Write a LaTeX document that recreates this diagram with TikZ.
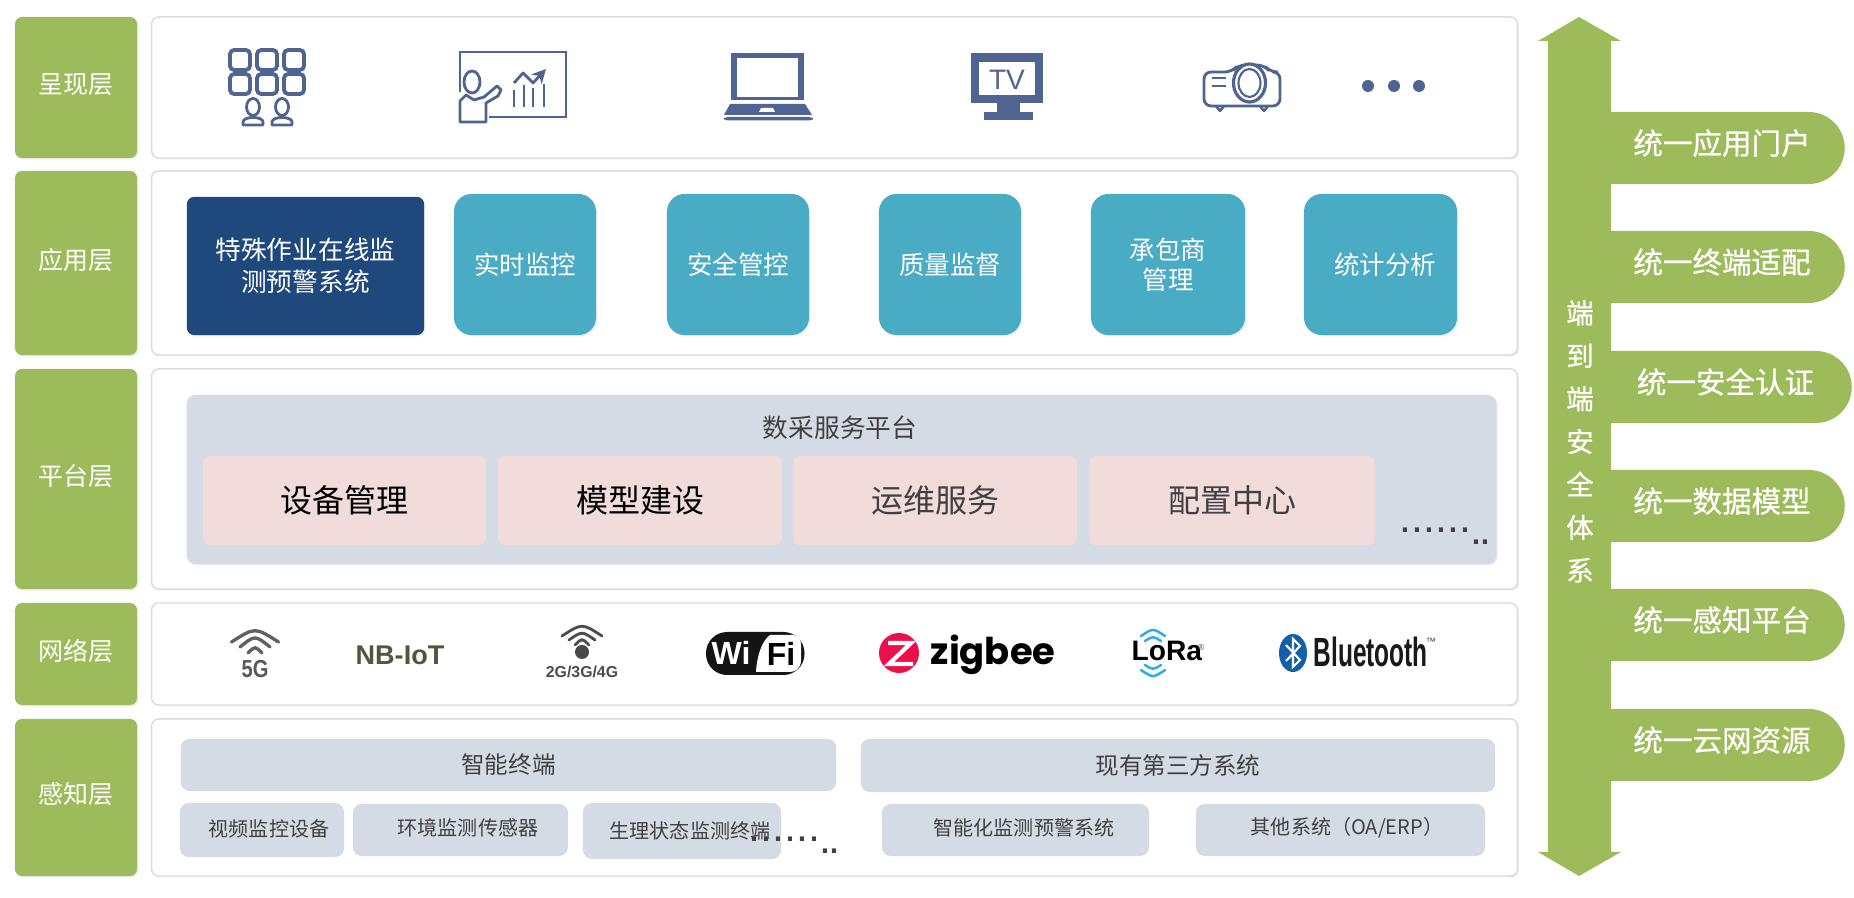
\documentclass[tikz,border=0pt]{standalone}
\usepackage{fontspec}
\usepackage{xcolor}
\usepackage{tikz}
\usetikzlibrary{calc, shapes.misc, shadows, arrows.meta}
\setmainfont{Noto Sans CJK SC}
\newfontfamily\cjkfat[FakeBold=0.7]{Noto Sans CJK SC}
\newfontfamily\logofont{Liberation Sans}
\newfontfamily\popfont{Poppins}
\definecolor{greenc}{RGB}{157,187,90}
\definecolor{tealc}{RGB}{74,171,197}
\definecolor{navyc}{RGB}{31,73,125}
\definecolor{slatec}{RGB}{213,219,229}
\definecolor{pinkc}{RGB}{241,219,219}
\definecolor{iconc}{RGB}{80,100,145}
\definecolor{txtc}{RGB}{64,64,64}
\definecolor{nbc}{RGB}{78,88,60}
\definecolor{zigc}{RGB}{235,15,75}
\definecolor{btc}{RGB}{20,95,170}
\definecolor{lorac}{RGB}{40,175,230}

\begin{document}
\begin{tikzpicture}[x=0.01cm, y=-0.01cm, font=\fontsize{7.1pt}{8.6pt}\selectfont,
  softshadow/.style={drop shadow={shadow xshift=0.4pt, shadow yshift=-0.4pt, opacity=0.07, fill=black}},
  layerlab/.style={fill=greenc, text=white, rounded corners=2pt, inner sep=0pt, minimum width=1.22cm,
                   text height=4.5pt, text depth=1pt, softshadow},
  panel/.style={fill=white, draw=black!14, line width=0.4pt, rounded corners=2pt, minimum width=13.65cm, inner sep=0pt, softshadow},
  appbox/.style={fill=tealc, text=white, rounded corners=5pt, inner sep=0pt, align=center, minimum height=1.41cm,
                 font=\fontsize{7.25pt}{8.6pt}\selectfont, softshadow},
  padbox/.style={fill=pinkc, rounded corners=2pt, inner sep=0pt, minimum height=0.89cm,
                 font=\fontsize{9.1pt}{11pt}\selectfont},
  headbox/.style={fill=slatec, rounded corners=2.5pt, inner sep=0pt, text=txtc, font=\fontsize{6.7pt}{8pt}\selectfont},
  subbox/.style={fill=slatec, rounded corners=2.5pt, inner sep=0pt},
  subtxt/.style={text=txtc, inner sep=0pt},
  sidetab/.style={rounded rectangle, rounded rectangle west arc=none, fill=greenc, text=white, inner sep=0pt,
                  minimum height=0.72cm, text height=4.6pt, text depth=1pt, font=\cjkfat\fontsize{8.4pt}{10pt}\selectfont},
  iconline/.style={draw=iconc, line width=1.1pt, line join=round},
  wave/.style={line width=0.95pt, line cap=round},
]

\useasboundingbox (0,0) rectangle (1854,898);

%% ── layer rows : label on the left, white panel on the right ──
\foreach \nm/\cy/\h/\lab in {show/87.5/1.41/呈现层, app/263/1.84/应用层, plat/479/2.20/平台层, net/654/1.02/网络层, sense/797.5/1.57/感知层}{
  \node[layerlab, minimum height=\h cm] (lab\nm) at (76,\cy) {\lab};
  \node[panel, minimum height=\h cm] (pan\nm) at (834.5,\cy) {};
}

%% ── presentation icons ──
% screen wall with two viewers
\foreach \x in {240,267,294}{
  \foreach \y in {60,84}{
    \draw[iconline, rounded corners=1.2pt] (\x-10,\y-10) rectangle (\x+10,\y+10);
  }
}
\foreach \x in {253,282}{
  \draw[iconline, line width=0.8pt] (\x,107) ellipse (6.5 and 8.5);
  \draw[iconline, line width=0.8pt, fill=white] (\x-10,125) -- (\x-10,122) .. controls (\x-10,116) and (\x+10,116) .. (\x+10,122) -- (\x+10,125) -- cycle;
}
% presenter at a chart board
\draw[iconline, line width=0.8pt, line join=miter] (460,92) -- (460,52) -- (566,52) -- (566,117) -- (489,117);
\draw[iconline, line width=0.8pt] (472,82) ellipse (8 and 11);
\draw[iconline, line width=0.8pt] (460,122) -- (460,101) -- (466,95) -- (474,100) -- (484,97) -- (497,86) -- (501,90) -- (498,96) -- (486,103) -- (486,122) -- cycle;
\foreach \x/\y in {514/90,524/85,533/88,544/84}{
  \draw[iconline, line width=0.7pt] (\x,\y) -- (\x,107);
}
\draw[iconline, line width=0.8pt, -{Stealth[length=4pt, width=4pt]}] (514,83) -- (523,73) -- (533,83) -- (546,69);
% laptop
\fill[iconc] (731,53) rectangle (804,100);
\fill[white] (737,58) rectangle (798,97);
\fill[iconc] (730,104) -- (805,104) -- (812,115) -- (724,115) -- cycle;
\fill[white] (761,108) -- (773,108) -- (775,112) -- (759,112) -- cycle;
\fill[iconc, rounded corners=1pt] (724,117) rectangle (813,120.5);
% tv
\fill[iconc] (970.5,53) rectangle (1043,103);
\fill[white] (979,62) rectangle (1035,95);
\fill[iconc] (997,103) rectangle (1020,112);
\fill[iconc] (983.5,112) rectangle (1033,120.5);
\node[text=iconc, inner sep=0pt, font=\logofont\fontsize{8pt}{9pt}\selectfont] (tvtxt) at (1007,80) {TV};
% projector
\draw[iconline, line width=0.8pt, rounded corners=2pt] (1204,106) -- (1204,72) -- (1232,72) -- (1238,65) -- (1264,65) -- (1270,72) -- (1280,72) -- (1280,106) -- cycle;
\draw[iconline, line width=0.9pt, fill=white] (1249.5,83) ellipse (16 and 19);
\draw[iconline, line width=0.6pt] (1249.5,83) ellipse (11 and 14);
\draw[iconline, line width=0.8pt] (1212,78) -- (1226,78);
\draw[iconline, line width=0.8pt] (1212,86) -- (1226,86);
\foreach \x in {1220,1264}{
  \draw[iconline, line width=0.7pt] (\x-4,106) -- (\x,111) -- (\x+4,106);
}
% ellipsis of devices
\foreach \x in {1368,1394,1419}{
  \fill[iconc] (\x,86) ellipse (6 and 6);
}

%% ── application boxes ──
\node[appbox, fill=navyc, rounded corners=2pt, minimum width=2.37cm, minimum height=1.38cm, font=\fontsize{7.3pt}{9.1pt}\selectfont] (appmain) at (305.5,266) {特殊作业在线监\\测预警系统};
\foreach \nm/\cx/\w/\lab in {shishi/525/1.42/实时监控, anquan/738/1.42/安全管控, zhiliang/950/1.42/质量监督, chengbao/1168/1.54/承包商\\管理, tongji/1380.5/1.53/\hspace*{0.09cm}统计分析}{
  \node[appbox, minimum width=\w cm] (app\nm) at (\cx,264.5) {\lab};
}

%% ── platform block ──
\node[fill=slatec, rounded corners=2.5pt, minimum width=13.09cm, minimum height=1.69cm, inner sep=0pt, softshadow] (platblock) at (841.5,479.5) {};
\node[text=txtc, inner sep=0pt, font=\fontsize{7.3pt}{9pt}\selectfont] (plattitle) at (840,428) {数采服务平台};
\foreach \nm/\cx/\w/\col/\lab in {shebei/344.5/2.83/black/设备管理, moxing/640/2.84/black/模型建设, yunwei/935/2.84/txtc/运维服务, peizhi/1232/2.86/txtc/配置中心}{
  \node[padbox, minimum width=\w cm, text=\col] (pad\nm) at (\cx,500.5) {\lab};
}

%% ── network logos ──
% 5G
\foreach \hw/\ey/\cy in {23.5/642/627, 15/647/635, 7/653/646}{
  \draw[wave, draw=black!62] (255-\hw,\ey) .. controls (255,\cy) .. (255+\hw,\ey);
}
\node[text=black!65, inner sep=0pt, font=\logofont\bfseries\fontsize{7pt}{8pt}\selectfont] (fiveg) at (255,669) {\scalebox{0.82}[1]{5G}};
% NB-IoT
\node[text=nbc, inner sep=0pt, font=\logofont\bfseries\fontsize{7.7pt}{9pt}\selectfont] (nbiot) at (400,655) {NB-IoT};
% 2G/3G/4G
\foreach \hw/\ey/\cy in {20/636/623, 13/640/631, 7/645/638}{
  \draw[wave, draw=black!70, line width=0.8pt] (582-\hw,\ey) .. controls (582,\cy) .. (582+\hw,\ey);
}
\fill[black!72] (582,652) circle (7);
\node[text=black!70, inner sep=0pt, font=\logofont\bfseries\fontsize{4.5pt}{5pt}\selectfont] (mobile) at (582,672) {2G/3G/4G};
% Wi-Fi
\fill[black!92, rounded corners=6pt] (706,632) rectangle (804.5,675);
\fill[white] (756,672) .. controls (757,655) and (762,641) .. (770,635) -- (793,635) .. controls (799,636) and (801,640) .. (801,645) -- (801,660) .. controls (801,668) and (796,672) .. (790,672) -- cycle;
\node[text=white, inner sep=0pt, font=\logofont\bfseries\fontsize{9.1pt}{10pt}\selectfont] (wifiwi) at (731,653) {Wi};
\node[text=black, inner sep=0pt, font=\logofont\bfseries\fontsize{9.1pt}{10pt}\selectfont] (wififi) at (781,654) {Fi};
% zigbee
\fill[zigc] (899,653) circle (20);
\draw[white, line width=1.2pt, line join=miter] (888,643) -- (911,643) -- (889,664) -- (913,664);
\node[anchor=base west, inner sep=0pt, text=black, font=\popfont\bfseries\fontsize{10.5pt}{12pt}\selectfont] (zigbee) at (930,665) {zigbee};
% LoRa
\node[anchor=base west, inner sep=0pt, text=black, font=\logofont\bfseries\fontsize{8pt}{9pt}\selectfont] (lora) at (1131,661) {LoRa};
\node[inner sep=0pt, text=black!70, font=\logofont\fontsize{2.5pt}{3pt}\selectfont] (lorareg) at (1201,647) {®};
\foreach \hw/\ey/\cy in {12/636/628, 8/641/636, 8/665/670, 12/670/678}{
  \draw[wave, draw=lorac, line width=0.7pt] (1153-\hw,\ey) .. controls (1153,\cy) .. (1153+\hw,\ey);
}
% Bluetooth
\fill[btc] (1293,653) ellipse (14 and 19);
\draw[white, line width=0.6pt] (1286,645) -- (1300,660) -- (1293,667) -- (1293,639) -- (1300,646) -- (1286,661);
\node[anchor=base west, inner sep=0pt, text=black!90, font=\logofont\bfseries\fontsize{11.6pt}{13pt}\selectfont] (bluetooth) at (1313,667) {\scalebox{0.6}[1]{Bluetooth}};
\node[inner sep=0pt, text=black!70, font=\logofont\fontsize{3pt}{3pt}\selectfont] (bluetm) at (1431,642) {™};

%% ── sensing block ──
\node[headbox, minimum width=6.55cm, minimum height=0.52cm] (headzn) at (508.5,765) {智能终端};
\node[headbox, minimum width=6.34cm, minimum height=0.53cm] (headxy) at (1178,765.5) {现有第三方系统};
\foreach \nm/\cx/\cy/\w/\h/\tx/\ty/\lab in {
  sp/262/830/1.64/0.54/269/829/视频监控设备,
  hj/460.5/830/2.15/0.52/468/828/环境监测传感器,
  sl/682/831/1.98/0.56/690/831/生理状态监测终端,
  zn/1015.5/830/2.67/0.52/1024/828/智能化监测预警系统,
  qt/1340.5/830/2.89/0.52/1347/828/{其他系统（OA/ERP）}}{
  \node[subbox, minimum width=\w cm, minimum height=\h cm] (sub\nm) at (\cx,\cy) {};
  \node[subtxt, font=\fontsize{5.7pt}{7pt}\selectfont] (txt\nm) at (\tx,\ty) {\lab};
}

%% ── trailing dots (platform, sensing) ──
\foreach \nm/\dx/\dy in {plat/0/0, sense/-651/309}{
  \node[anchor=base west, inner sep=0pt, text=txtc, font=\logofont\fontsize{12.2pt}{13pt}\selectfont] (dots\nm) at (1399+\dx,533+\dy) {......};
  \node[anchor=base west, inner sep=0pt, text=txtc, font=\logofont\fontsize{12.2pt}{13pt}\selectfont] (more\nm) at (1470+\dx,545+\dy) {.\kern-0.9pt.};
}

%% ── end-to-end arrow with its side tabs ──
\fill[greenc] (1579,17) -- (1621,41) -- (1611,41) -- (1611,852) -- (1621,852) -- (1579,876) -- (1538,852) -- (1548,852) -- (1548,41) -- (1538,41) -- cycle;
\node[align=center, text=white, inner sep=0pt, font=\cjkfat\fontsize{7.8pt}{12.2pt}\selectfont] (e2e) at (1580,441.5) {端\\到\\端\\安\\全\\体\\系};
\foreach \nm/\cx/\cy/\w/\lab in {men/1722/148/2.44/统一应用门户, zd/1722/267/2.44/统一终端适配, aq/1725.5/387/2.51/统一安全认证, sj/1722/506/2.44/统一数据模型, gz/1722/625/2.44/统一感知平台, yun/1722/745/2.44/统一云网资源}{
  \node[sidetab, minimum width=\w cm] (tab\nm) at (\cx,\cy) {\lab};
}

\end{tikzpicture}
\end{document}
